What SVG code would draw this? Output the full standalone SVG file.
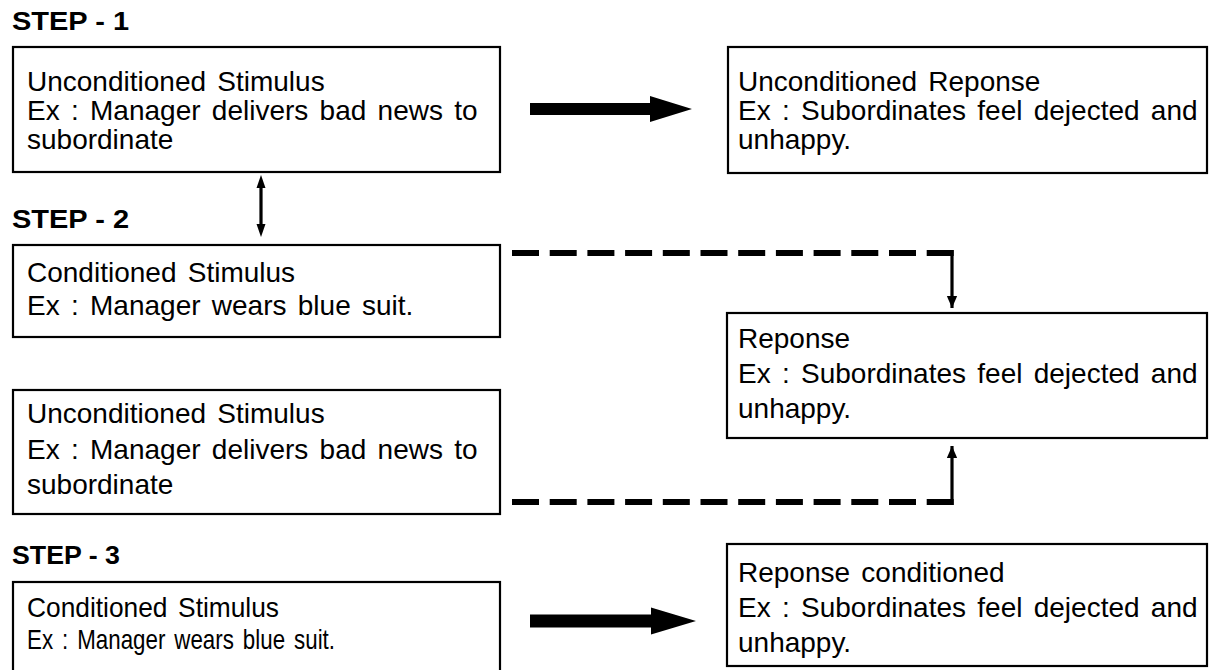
<svg xmlns="http://www.w3.org/2000/svg" width="1212" height="670" viewBox="0 0 1212 670">
  <style>
    .box { fill: #ffffff; stroke: #000000; stroke-width: 2.2; }
    .txt { font-family: "Liberation Sans", Arial, sans-serif; font-size: 28px; word-spacing: 3.5px; fill: #000000; }
    .step { font-family: "Liberation Sans", Arial, sans-serif; font-size: 25px; font-weight: bold; fill: #000000; }
    .dash { fill: none; stroke: #000000; stroke-width: 6; stroke-dasharray: 27 10.7; }
    .solid { fill: none; stroke: #000000; stroke-width: 3.2; }
    .fat { fill: #000000; stroke: none; }
  </style>
  <defs>
    <marker id="head" markerUnits="userSpaceOnUse" markerWidth="12" markerHeight="15" refX="14" refY="6" viewBox="0 0 14 12" orient="auto">
      <path d="M0,0 L14,6 L0,12 Z" fill="#000000"/>
    </marker>
  </defs>

  <rect width="1212" height="670" fill="#ffffff"/>

  <!-- step headings -->
  <text class="step" x="12" y="30" textLength="117" lengthAdjust="spacingAndGlyphs">STEP - 1</text>
  <text class="step" x="12" y="228" textLength="117" lengthAdjust="spacingAndGlyphs">STEP - 2</text>
  <text class="step" x="12" y="564" textLength="108" lengthAdjust="spacingAndGlyphs">STEP - 3</text>

  <!-- connectors -->
  <g id="connectors">
    <!-- step 1: stimulus to response -->
    <path class="fat" d="M530,103 H650 V96 L692,109 L650,122 V115 H530 Z"/>
    <!-- link between step 1 and step 2 stimulus -->
    <line class="solid" x1="261" y1="186" x2="261" y2="226"/>
    <path class="fat" d="M261,175 L265.5,188 L256.5,188 Z"/>
    <path class="fat" d="M261,237 L265.5,224 L256.5,224 Z"/>
    <!-- conditioned stimulus to response -->
    <line class="dash" x1="512" y1="253" x2="954" y2="253"/>
    <line class="solid" x1="952" y1="250" x2="952" y2="308" marker-end="url(#head)"/>
    <!-- unconditioned stimulus to response -->
    <line class="dash" x1="512" y1="502" x2="954" y2="502"/>
    <line class="solid" x1="952" y1="505" x2="952" y2="446" marker-end="url(#head)"/>
    <!-- step 3: conditioned stimulus to conditioned response -->
    <path class="fat" d="M530,614.5 H651 V607.5 L696,621 L651,634.5 V627.5 H530 Z"/>
  </g>

  <g id="us1">
    <rect class="box" x="13" y="47" width="487" height="125"/>
    <text class="txt" x="27" y="91">Unconditioned Stimulus</text>
    <text class="txt" x="27" y="120">Ex : Manager delivers bad news to</text>
    <text class="txt" x="27" y="149">subordinate</text>
  </g>

  <g id="ur1">
    <rect class="box" x="728" y="47" width="479" height="126"/>
    <text class="txt" x="738" y="91">Unconditioned Reponse</text>
    <text class="txt" x="738" y="120">Ex : Subordinates feel dejected and</text>
    <text class="txt" x="738" y="149">unhappy.</text>
  </g>

  <g id="cs2">
    <rect class="box" x="13" y="245" width="487" height="92"/>
    <text class="txt" x="27" y="282">Conditioned Stimulus</text>
    <text class="txt" x="27" y="315">Ex : Manager wears blue suit.</text>
  </g>

  <g id="r2">
    <rect class="box" x="727" y="313" width="480" height="125"/>
    <text class="txt" x="738" y="348">Reponse</text>
    <text class="txt" x="738" y="383">Ex : Subordinates feel dejected and</text>
    <text class="txt" x="738" y="418">unhappy.</text>
  </g>

  <g id="us2">
    <rect class="box" x="13" y="390" width="487" height="124"/>
    <text class="txt" x="27" y="423">Unconditioned Stimulus</text>
    <text class="txt" x="27" y="459">Ex : Manager delivers bad news to</text>
    <text class="txt" x="27" y="494">subordinate</text>
  </g>

  <g id="cs3">
    <rect class="box" x="13" y="582" width="487" height="100"/>
    <text class="txt" x="27" y="617" textLength="252" lengthAdjust="spacingAndGlyphs">Conditioned Stimulus</text>
    <text class="txt" x="27" y="649" textLength="308" lengthAdjust="spacingAndGlyphs">Ex : Manager wears blue suit.</text>
  </g>

  <g id="rc3">
    <rect class="box" x="727" y="544" width="480" height="122"/>
    <text class="txt" x="738" y="582">Reponse conditioned</text>
    <text class="txt" x="738" y="617">Ex : Subordinates feel dejected and</text>
    <text class="txt" x="738" y="652">unhappy.</text>
  </g>
</svg>
